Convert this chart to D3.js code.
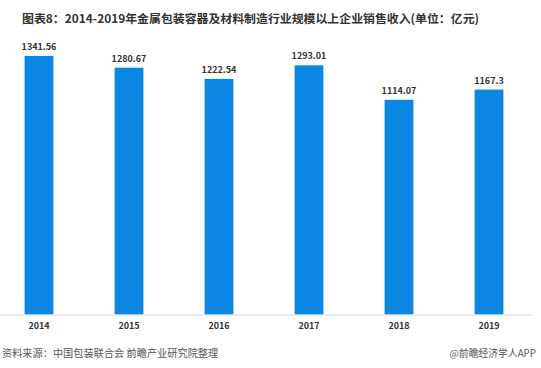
<!DOCTYPE html>
<html>
<head>
<meta charset="utf-8">
<script src="https://cdn.jsdelivr.net/npm/d3@7"></script>
<style>
  body { margin: 0; background: #fff; }
  svg { display: block; font-family: "Microsoft YaHei", "Noto Sans CJK SC", sans-serif; }
</style>
</head>
<body>
<script>
// data
const years = ['2014', '2015', '2016', '2017', '2018', '2019'];
const revenue = [1341.56, 1280.67, 1222.54, 1293.01, 1114.07, 1167.3];
const revenueLabels = ['1341.56', '1280.67', '1222.54', '1293.01', '1114.07', '1167.3'];

const W = 541, H = 368;
const baseY = 314.5;

const svg = d3.select('body')
              .append('svg')
              .attr('width', W)
              .attr('height', H);

// title
svg.append('text')
  .attr('x', 22)
  .attr('y', 23)
  .attr('font-size', 11.9)
  .attr('font-weight', 'bold')
  .attr('fill', '#333')
  .text('图表8：2014-2019年金属包装容器及材料制造行业规模以上企业销售收入(单位：亿元)');

const xscale = d3.scaleBand()
                .domain(years)
                .range([-6, 534])
                .paddingInner(0.68)
                .paddingOuter(0.34);

const yscale = d3.scaleLinear()
                .domain([0, 1400])
                .range([baseY, 44.7]);

// bars
svg.selectAll('rect.bar')
  .data(years)
  .enter().append('rect')
  .attr('class', 'bar')
  .attr('x', d => xscale(d))
  .attr('width', xscale.bandwidth())
  .attr('y', (d, i) => yscale(revenue[i]))
  .attr('height', (d, i) => baseY - yscale(revenue[i]))
  .attr('fill', '#0b86e3');

// value labels
svg.selectAll('text.val')
  .data(years)
  .enter().append('text')
  .attr('class', 'val')
  .attr('x', d => xscale(d) + xscale.bandwidth() / 2)
  .attr('y', (d, i) => yscale(revenue[i]) - 6)
  .attr('text-anchor', 'middle')
  .attr('font-size', 9)
  .attr('font-weight', 'bold')
  .attr('fill', '#333')
  .text((d, i) => revenueLabels[i]);

// x axis
const x_axis = d3.axisBottom(xscale).tickSize(0).tickPadding(8);
const gx = svg.append('g')
  .attr('transform', `translate(0, ${baseY})`)
  .call(x_axis);
gx.select('.domain')
  .attr('d', 'M0,0.5H532')
  .attr('stroke', '#d9d9d9');
gx.selectAll('text')
  .attr('font-size', 9)
  .attr('font-weight', 'bold')
  .attr('fill', '#333')
  .attr('font-family', '"Microsoft YaHei", "Noto Sans CJK SC", sans-serif');

// footer
svg.append('text')
  .attr('x', 2)
  .attr('y', 357)
  .attr('font-size', 10.2)
  .attr('fill', '#555')
  .text('资料来源：中国包装联合会 前瞻产业研究院整理');

svg.append('text')
  .attr('x', 536)
  .attr('y', 357)
  .attr('text-anchor', 'end')
  .attr('font-size', 9.8)
  .attr('fill', '#555')
  .text('@前瞻经济学人APP');
</script>
</body>
</html>
